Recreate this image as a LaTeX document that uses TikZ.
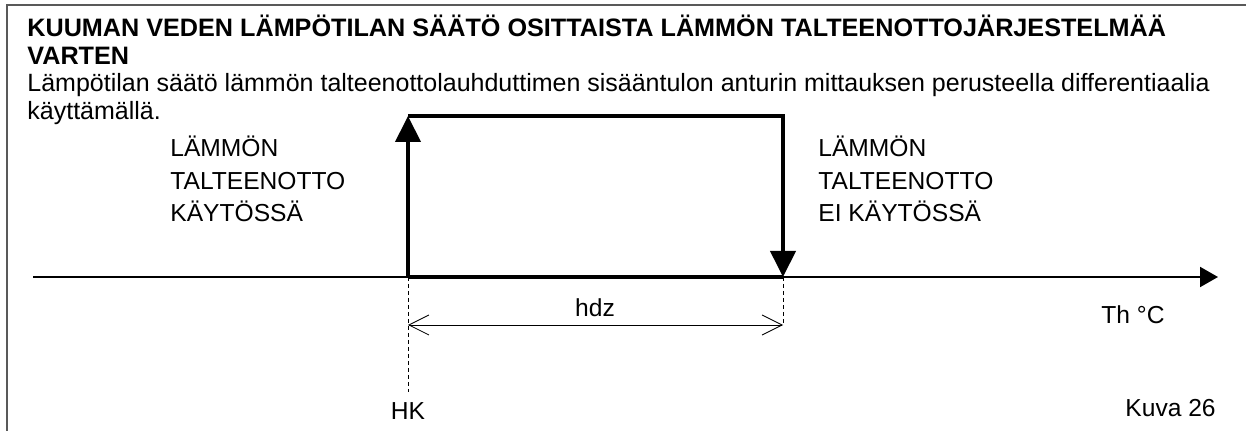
\documentclass[tikz,border=0pt]{standalone}
\usepackage{fontspec}
\setmainfont{Liberation Sans}
\usetikzlibrary{arrows.meta}

\tikzset{
  txt/.style={anchor=base west,inner sep=0pt,font=\fontsize{12.5}{15}\selectfont},
  lbl/.style={anchor=base west,inner sep=0pt,font=\fontsize{12.3}{15}\selectfont},
  heavy/.style={line width=2pt},
  guide/.style={thin,dash pattern=on 2pt off 1.5pt}
}

\begin{document}
\begin{tikzpicture}[x=0.5pt,y=-0.5pt]
\useasboundingbox (0,0) rectangle (1246,431);

% frame
\draw[gray!70!black,line width=0.6pt] (7,431) -- (7,5) -- (1246,5);

% heading and description
\node[txt,font=\bfseries\fontsize{12.6}{15}\selectfont] (title1) at (27,37) {KUUMAN VEDEN LÄMPÖTILAN SÄÄTÖ OSITTAISTA LÄMMÖN TALTEENOTTOJÄRJESTELMÄÄ};
\node[txt,font=\bfseries\fontsize{12.6}{15}\selectfont] (title2) at (27,65) {VARTEN};
\node[txt] (desc1) at (27,92) {Lämpötilan säätö lämmön talteenottolauhduttimen sisääntulon anturin mittauksen perusteella differentiaalia};
\node[txt] (desc2) at (27,120) {käyttämällä.};

% state labels
\node[lbl] (on1) at (170,157) {LÄMMÖN};
\node[lbl] (on2) at (170,190) {TALTEENOTTO};
\node[lbl] (on3) at (170,222) {KÄYTÖSSÄ};
\node[lbl] (off1) at (818,157) {LÄMMÖN};
\node[lbl] (off2) at (818,190) {TALTEENOTTO};
\node[lbl] (off3) at (818,222) {EI KÄYTÖSSÄ};

% axis
\coordinate (axL) at (33,277);
\coordinate (axR) at (1218,277);
\draw[line width=1pt,-{Triangle[length=9pt,width=10pt]}] (axL) -- (axR);
\node[lbl] (th) at (1101,324) {Th °C};

% hysteresis loop
\coordinate (hk) at (408,277);
\coordinate (hkTop) at (408,116);
\coordinate (hdzR) at (783,277);
\coordinate (hdzTop) at (783,116);
\draw[heavy] (hk) -- (hdzR);
\draw[heavy,-{Triangle[length=13pt,width=12.5pt]}] (hk) -- (hkTop);
\draw[heavy,-{Triangle[length=13pt,width=12.5pt]}] (hkTop) -- (hdzTop) -- (hdzR);

% differential
\coordinate (hkLow) at (408,392);
\coordinate (dimL) at (408,325);
\coordinate (dimR) at (783,325);
\draw[guide] (hk) -- (hkLow);
\draw[guide] (hdzR) -- (dimR);
\draw[thin,{Straight Barb[length=10pt,width=10pt]}-{Straight Barb[length=10pt,width=10pt]}] (dimL) -- (dimR);
\node[lbl,anchor=base] (hdz) at (595,317) {hdz};
\node[lbl,anchor=base] (hklbl) at (408,420) {HK};

\node[lbl] (kuva) at (1125,417) {Kuva 26};
\end{tikzpicture}
\end{document}
